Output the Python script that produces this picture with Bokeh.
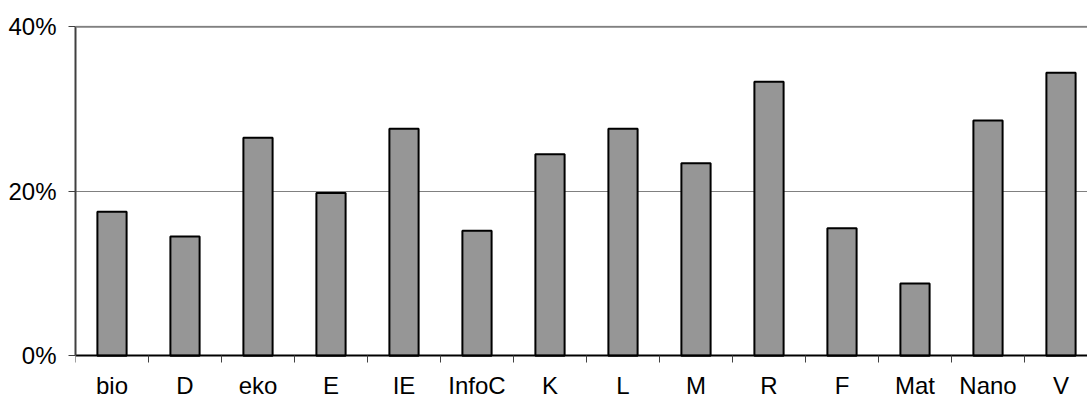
from bokeh.plotting import figure
from bokeh.models import Range1d, FixedTicker, Span, ColumnDataSource
from bokeh.embed import file_html
from bokeh.resources import INLINE

categories = ["bio", "D", "eko", "E", "IE", "InfoC", "K", "L", "M", "R", "F", "Mat", "Nano", "V"]
values = [17.5, 14.5, 26.5, 19.8, 27.6, 15.2, 24.5, 27.6, 23.4, 33.3, 15.5, 8.8, 28.6, 34.4]
y_ticks = [0, 20, 40]
y_tick_labels = ["0%", "20%", "40%"]

centers = [i + 0.5 for i in range(len(categories))]
bounds = [i for i in range(len(categories) + 1)]

src = ColumnDataSource(dict(x=centers, top=values, cat=categories))

W, H = 1087, 400
LEFT = 75
TOP = 25
# vertical scale: 0% at y=355.3 px, 40% at y=26.2 px
ppu = (355.3 - 26.2) / 40
y_end = 40 + (26.2 - TOP) / ppu
y_start = -(H - 355.3) / ppu

p = figure(width=W, height=H, output_backend="svg", toolbar_location=None,
           x_range=Range1d(0, (W - LEFT) / 73), y_range=Range1d(y_start, y_end),
           min_border_left=LEFT, min_border_right=0, min_border_top=TOP, min_border_bottom=0)
p.outline_line_color = None
p.background_fill_color = "white"
p.border_fill_color = "white"

p.vbar(x="x", top="top", bottom=0, width=0.4, source=src,
       fill_color="#969696", line_color="black", line_width=2)

p.xgrid.visible = False
p.ygrid.ticker = FixedTicker(ticks=[20])
p.ygrid.grid_line_color = "#808080"
p.ygrid.grid_line_width = 1
p.add_layout(Span(location=40, dimension="width", line_color="#808080", line_width=2))

font = "Liberation Sans"
# x axis
xa = p.xaxis[0]
xa.fixed_location = 0
xa.ticker = FixedTicker(ticks=centers, minor_ticks=bounds)
xa.major_label_overrides = {c: lab for c, lab in zip(centers, categories)}
xa.major_tick_line_color = None
xa.major_tick_out = 7
xa.major_tick_in = 0
xa.minor_tick_line_color = "#404040"
xa.minor_tick_out = 7
xa.minor_tick_in = 0
xa.axis_line_color = "black"
xa.axis_line_width = 2
xa.major_label_text_font = font
xa.major_label_text_font_size = "24px"
xa.major_label_text_color = "black"
xa.major_label_standoff = 9

ya = p.yaxis[0]
ya.bounds = (0, 40)
ya.ticker = FixedTicker(ticks=y_ticks)
ya.major_label_overrides = {t: l for t, l in zip(y_ticks, y_tick_labels)}
ya.minor_tick_line_color = None
ya.major_tick_out = 7
ya.major_tick_in = 0
ya.major_tick_line_color = "#404040"
ya.axis_line_color = "#404040"
ya.axis_line_width = 2
ya.major_label_text_font = font
ya.major_label_text_font_size = "24px"
ya.major_label_text_color = "black"
ya.major_label_standoff = 12

open("out.html", "w").write(file_html(p, INLINE))
